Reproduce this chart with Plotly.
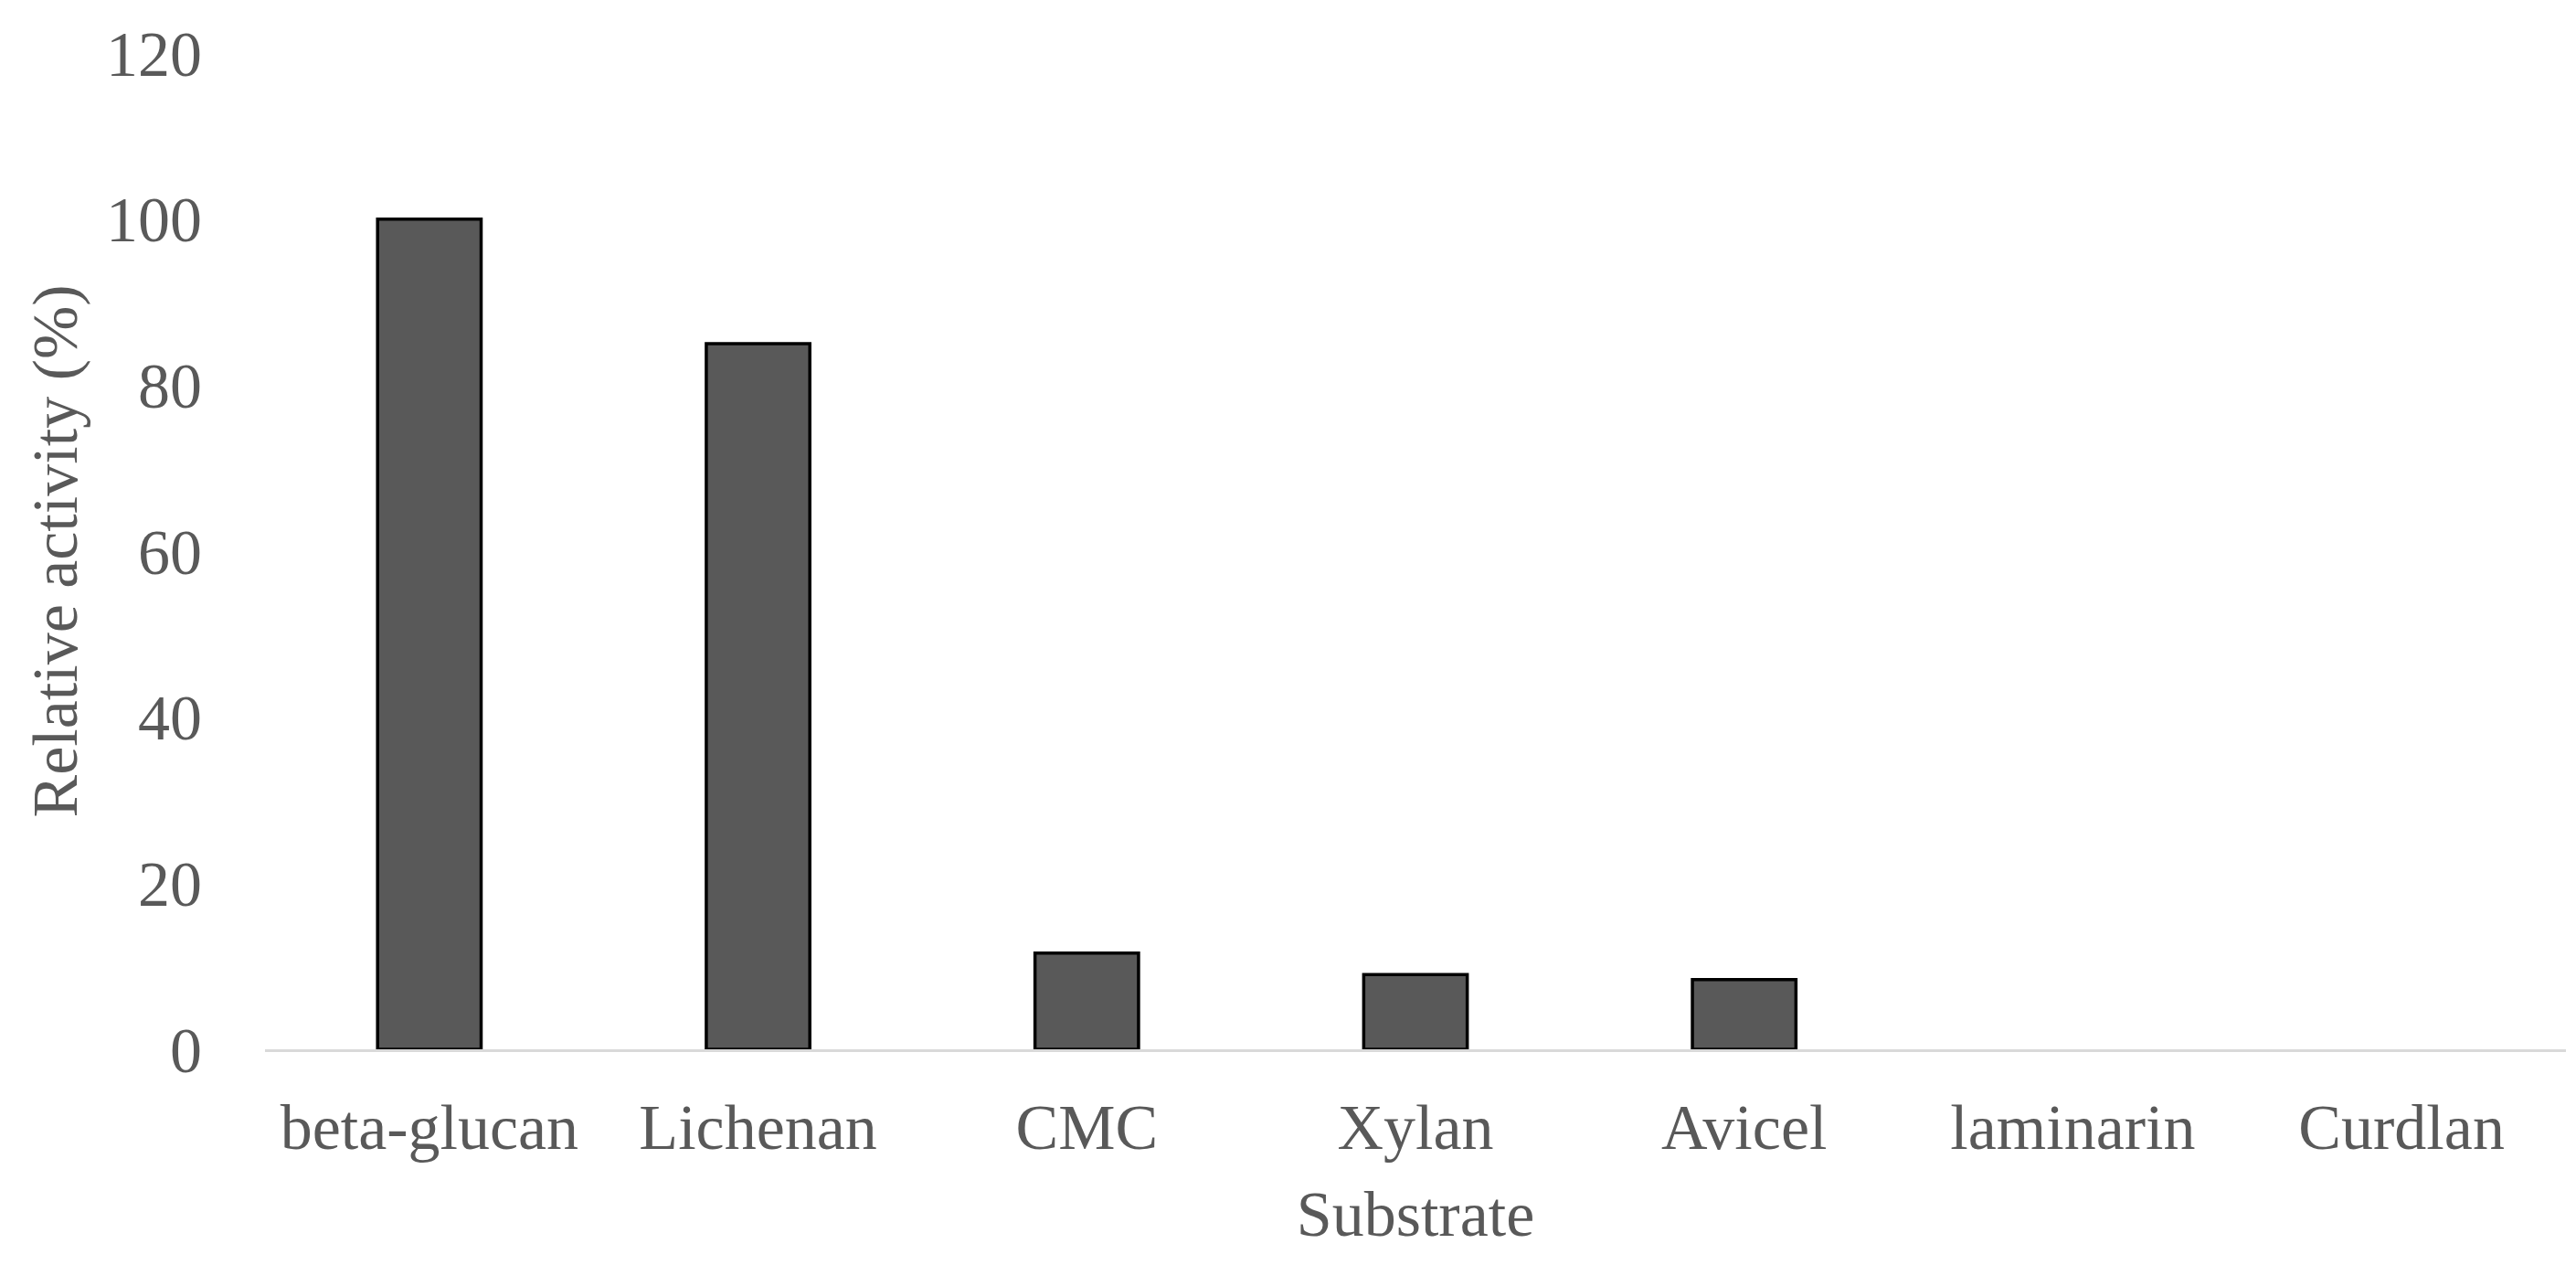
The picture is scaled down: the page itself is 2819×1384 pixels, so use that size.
import plotly.graph_objects as go

categories = ["beta-glucan", "Lichenan", "CMC", "Xylan", "Avicel", "laminarin", "Curdlan"]
activity = [100, 85, 11.6, 9.0, 8.4, 0, 0]
y_ticks = [0, 20, 40, 60, 80, 100, 120]

FONT = "Liberation Serif, Times New Roman, serif"
GRAY = "#595959"

outline_widths = [3.5 if v > 0 else 0 for v in activity]

fig = go.Figure(
    go.Bar(
        x=categories,
        y=activity,
        width=0.315,
        marker=dict(color="#595959", line=dict(color="black", width=outline_widths)),
    )
)

fig.update_layout(
    width=2819,
    height=1384,
    margin=dict(l=282, r=19, t=50, b=244),
    plot_bgcolor="white",
    paper_bgcolor="white",
    showlegend=False,
    font=dict(family=FONT, size=70, color=GRAY),
)

fig.update_xaxes(
    title=dict(text="Substrate", font=dict(family=FONT, size=70, color=GRAY), standoff=32),
    showgrid=False,
    showline=True,
    linecolor="#d9d9d9",
    linewidth=3,
    ticks="",
    ticklabelstandoff=22,
    tickfont=dict(family=FONT, size=70, color=GRAY),
)

fig.update_yaxes(
    title=dict(text="Relative activity (%)", font=dict(family=FONT, size=70, color=GRAY), standoff=8),
    range=[0, 120],
    tickvals=y_ticks,
    showgrid=False,
    zeroline=False,
    showline=False,
    ticks="",
    ticklabelstandoff=68,
    tickfont=dict(family=FONT, size=70, color=GRAY),
)

fig.write_html("out.html")
